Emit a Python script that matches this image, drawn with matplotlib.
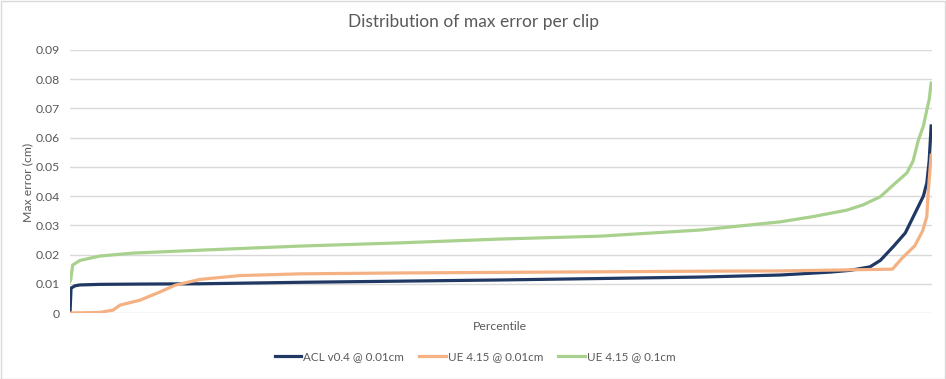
import matplotlib
matplotlib.use("Agg")
import matplotlib.pyplot as plt
from matplotlib.patches import Rectangle

plt.rcParams['font.family'] = ['Lato', 'DejaVu Sans']

# Data (percentile -> max error in cm)
acl_pct = [0, 0.12, 0.58, 1.16, 3.48, 8.13, 15.1, 26.7, 38.3, 49.9, 61.6, 73.2, 82.5,
           88.3, 90.6, 92.9, 94.1, 95.6, 97.0, 98.1, 99.1, 99.5, 99.77, 100]
acl_err = [0, 0.0085, 0.0093, 0.0096, 0.0098, 0.0099, 0.0100, 0.0105, 0.0109, 0.0113, 0.0118, 0.0123, 0.0130,
           0.0140, 0.0146, 0.0158, 0.0180, 0.0227, 0.0274, 0.0340, 0.0400, 0.0445, 0.0520, 0.0640]

ue01_pct = [0, 3.48, 5.0, 5.81, 8.13, 10.45, 12.2, 15.1, 19.7, 26.7, 38.3, 49.9, 61.6, 73.2, 82.5,
            95.5, 96.7, 98.1, 99.0, 99.5, 99.65, 100]
ue01_err = [0, 0.0002, 0.0010, 0.0027, 0.0044, 0.0072, 0.0095, 0.0115, 0.0128, 0.0134, 0.0137, 0.0139, 0.0141, 0.0143, 0.0144,
            0.0150, 0.0190, 0.0230, 0.0280, 0.0330, 0.0410, 0.0540]

ue1_pct = [0, 0.08, 0.31, 1.16, 3.48, 7.32, 15.1, 26.7, 38.3, 49.9, 61.6, 73.2, 82.5, 86.3, 90.2,
           92.1, 94.1, 95.6, 97.2, 97.9, 98.5, 99.1, 99.5, 99.77, 100]
ue1_err = [0.0108, 0.0113, 0.0164, 0.0180, 0.0195, 0.0205, 0.0215, 0.0229, 0.0240, 0.0253, 0.0263, 0.0284, 0.0312, 0.0330, 0.0352,
           0.0370, 0.0398, 0.0438, 0.0480, 0.0520, 0.0590, 0.0640, 0.0695, 0.0730, 0.0787]

series_names = ["ACL v0.4 @ 0.01cm", "UE 4.15 @ 0.01cm", "UE 4.15 @ 0.1cm"]
series_colors = ["#203864", "#F4B183", "#A9D18E"]
yticks = [0, 0.01, 0.02, 0.03, 0.04, 0.05, 0.06, 0.07, 0.08, 0.09]
ytick_labels = ["0", "0.01", "0.02", "0.03", "0.04", "0.05", "0.06", "0.07", "0.08", "0.09"]

W, H = 946, 379
fig = plt.figure(figsize=(W / 100, H / 100), dpi=100)
ax = fig.add_axes([70 / W, 1 - 313 / H, (932 - 70) / W, (313 - 50) / H])

txt = "#595959"
grid = "#D9D9D9"

for p, e, name, c in zip([acl_pct, ue01_pct, ue1_pct], [acl_err, ue01_err, ue1_err],
                         series_names, series_colors):
    ax.plot(p, e, color=c, lw=2.3, label=name, solid_joinstyle='round', zorder=3)

ax.set_xlim(0, 100.1)
ax.set_ylim(0, 0.09)
ax.set_yticks(yticks)
ax.set_yticklabels(ytick_labels)
ax.set_xticks([])
ax.tick_params(axis='y', length=0, pad=7.5, labelsize=8.8, labelcolor=txt)
ax.grid(axis='y', color=grid, lw=1)
ax.set_axisbelow(True)
for s in ax.spines.values():
    s.set_visible(False)

fig.text(473 / W, 1 - 22 / H, "Distribution of max error per clip", ha='center', va='center',
         fontsize=12.5, color=txt)
fig.text(28 / W, 1 - 182 / H, "Max error (cm)", ha='center', va='center', rotation=90,
         fontsize=8.8, color=txt)
fig.text(500 / W, 1 - 326 / H, "Percentile", ha='center', va='center', fontsize=8.8, color=txt)

fig.legend(loc='center', bbox_to_anchor=(475 / W, 1 - 357 / H), ncol=3, frameon=False,
           fontsize=8.4, labelcolor=txt, handlelength=2.3, handletextpad=0.15, columnspacing=1.3)

fig.patches.append(Rectangle((0.5 / W, 0.5 / H), 1 - 1.5 / W, 1 - 1.5 / H, transform=fig.transFigure,
                             fill=False, edgecolor="#D9D9D9", lw=1))

fig.savefig("out.png", dpi=100, facecolor="white")
